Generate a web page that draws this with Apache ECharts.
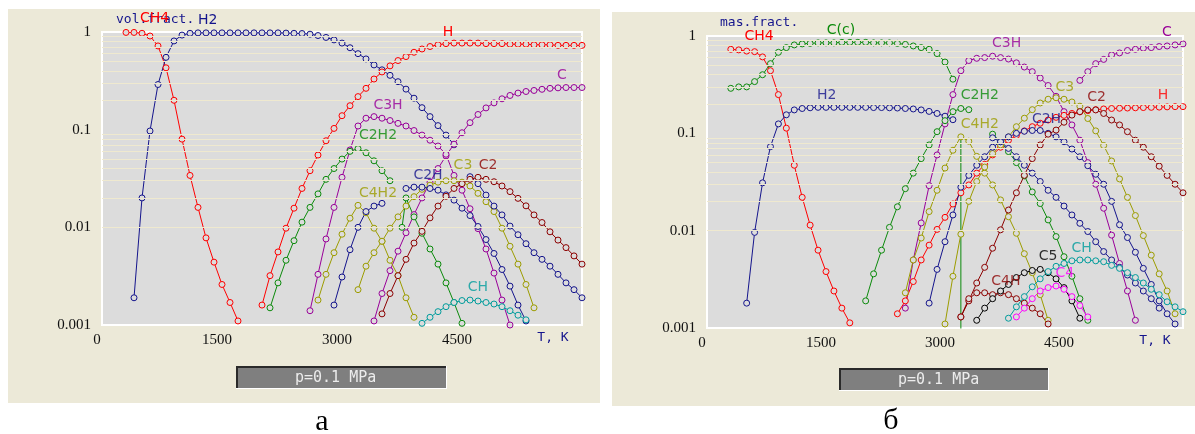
<!DOCTYPE html>
<html><head><meta charset="utf-8">
<script src="https://cdn.jsdelivr.net/npm/echarts@6/dist/echarts.min.js"></script>
<style>html,body{margin:0;padding:0;background:#fff}#c{width:1195px;height:434px}</style>
</head><body><div id="c"></div>
<script>
// ---------- tick labels / axis ----------
const xTicks = [0, 1500, 3000, 4500];
const yTicks = [0.001, 0.01, 0.1, 1];
const minorLines = [0.002,0.003,0.004,0.005,0.006,0.007,0.008,0.009,0.02,0.03,0.04,0.05,0.06,0.07,0.08,0.09,0.2,0.3,0.4,0.5,0.6,0.7,0.8,0.9];

// ---------- panel a: volume fractions [T, value] ----------
const a_CH4 = [[300,.99],[400,.99],[500,.97],[600,.91],[700,.72],[800,.43],[900,.20],[1000,.080],[1100,.034],[1200,.016],[1300,.0078],[1400,.0044],[1500,.0026],[1600,.0017],[1700,.0011]];
const a_H2 = [[400,.0019],[500,.020],[600,.097],[700,.29],[800,.55],[900,.81],[1000,.93],[1100,.97],[1200,.98],[1300,.98],[1400,.98],[1500,.98],[1600,.98],[1700,.98],[1800,.98],[1900,.98],[2000,.98],[2100,.98],[2200,.98],[2300,.975],[2400,.97],[2500,.965],[2600,.95],[2700,.92],[2800,.88],[2900,.83],[3000,.77],[3100,.69],[3200,.60],[3300,.53],[3400,.46],[3500,.41],[3600,.36],[3700,.31],[3800,.26],[3900,.21],[4000,.168],[4100,.136],[4200,.11],[4300,.088],[4400,.070]];
const a_H = [[2000,.0016],[2100,.0032],[2200,.0056],[2300,.0098],[2400,.0157],[2500,.025],[2600,.038],[2700,.055],[2800,.077],[2900,.103],[3000,.139],[3100,.176],[3200,.218],[3300,.265],[3400,.33],[3500,.39],[3600,.45],[3700,.51],[3800,.56],[3900,.62],[4000,.67],[4100,.71],[4200,.74],[4300,.76],[4400,.77],[4500,.77],[4600,.77],[4700,.77],[4800,.76],[4900,.76],[5000,.76],[5100,.75],[5200,.75],[5300,.75],[5400,.74],[5500,.74],[5600,.74],[5700,.73],[5800,.73],[5900,.73],[6000,.73]];
const a_C = [[3400,.0011],[3500,.0021],[3600,.0036],[3700,.0057],[3800,.0088],[3900,.0135],[4000,.020],[4100,.029],[4200,.040],[4300,.054],[4400,.071],[4500,.093],[4600,.118],[4700,.143],[4800,.167],[4900,.188],[5000,.207],[5100,.224],[5200,.237],[5300,.246],[5400,.252],[5500,.259],[5600,.265],[5700,.268],[5800,.27],[5900,.27],[6000,.27]];
const a_C3H = [[2600,.0014],[2700,.0033],[2800,.0076],[2900,.016],[3000,.0325],[3100,.062],[3200,.109],[3300,.131],[3400,.136],[3500,.131],[3600,.124],[3700,.116],[3800,.109],[3900,.098],[4000,.088],[4100,.078],[4200,.068],[4300,.056],[4400,.034],[4500,.024],[4600,.0155],[4700,.0097],[4800,.006],[4900,.0034],[5000,.0018],[5100,.001]];
const a_C2H2 = [[2100,.0015],[2200,.0027],[2300,.0046],[2400,.0073],[2500,.0113],[2600,.016],[2700,.022],[2800,.031],[2900,.040],[3000,.050],[3100,.060],[3200,.064],[3300,.058],[3400,.048],[3500,.038],[3600,.030]];
const a_G2 = [[3750,.010],[3800,.020],[3900,.0128],[4000,.0087],[4100,.0060],[4200,.0042],[4300,.0027],[4400,.0017],[4500,.00104]];
const a_C4H2 = [[2700,.0018],[2800,.0033],[2900,.0055],[3000,.0085],[3100,.0124],[3200,.0168],[3300,.0141],[3400,.0098],[3500,.0072],[3600,.0046],[3700,.0032],[3800,.0019],[3900,.0012]];
const a_C3 = [[3200,.0023],[3300,.0040],[3400,.0055],[3500,.0072],[3600,.0098],[3700,.0128],[3800,.0165],[3900,.0206],[4000,.0245],[4100,.027],[4200,.029],[4300,.030],[4400,.030],[4500,.029],[4600,.0265],[4700,.0223],[4800,.0183],[4900,.0145],[5000,.0098],[5100,.0064],[5200,.0042],[5300,.0026],[5400,.0015]];
const a_C2H = [[3800,.025],[3900,.0258],[4000,.0258],[4100,.025],[4200,.024],[4300,.0215],[4400,.019],[4500,.0157],[4600,.0132],[4700,.0102],[4800,.0075],[4900,.0054],[5000,.0037],[5100,.0025],[5200,.0016],[5300,.0011]];
const a_N1 = [[2900,.0016],[3000,.0031],[3100,.0059],[3200,.0100],[3300,.0145],[3400,.0165],[3500,.0176]];
const a_N2 = [[4600,.033],[4700,.028],[4800,.0214],[4900,.0165],[5000,.0134],[5100,.0103],[5200,.0084],[5300,.0068],[5400,.0055],[5500,.0047],[5600,.0040],[5700,.0033],[5800,.0027],[5900,.0023],[6000,.0019]];
const a_C2 = [[3500,.0013],[3600,.0021],[3700,.0032],[3800,.0047],[3900,.0069],[4000,.0091],[4100,.0125],[4200,.0165],[4300,.0208],[4400,.025],[4500,.028],[4600,.031],[4700,.0325],[4800,.031],[4900,.0293],[5000,.0265],[5100,.0232],[5200,.0198],[5300,.0166],[5400,.0134],[5500,.0112],[5600,.0090],[5700,.0074],[5800,.0062],[5900,.0051],[6000,.0042]];
const a_CH = [[4000,.00104],[4100,.0012],[4200,.00137],[4300,.00154],[4400,.0017],[4500,.00178],[4600,.0018],[4700,.00176],[4800,.0017],[4900,.00164],[5000,.00154],[5100,.0014],[5200,.00126],[5300,.00113]];

// ---------- panel b: mass fractions [T, value] ----------
const b_CH4 = [[300,.73],[400,.72],[500,.70],[600,.69],[700,.61],[800,.44],[900,.25],[1000,.113],[1100,.047],[1200,.022],[1300,.0114],[1400,.0063],[1500,.0038],[1600,.0024],[1700,.0016],[1800,.00113]];
const b_Cc = [[300,.29],[400,.30],[500,.30],[600,.34],[700,.40],[800,.52],[900,.68],[1000,.76],[1100,.81],[1200,.83],[1300,.84],[1400,.85],[1500,.85],[1600,.85],[1700,.86],[1800,.86],[1900,.86],[2000,.86],[2100,.85],[2200,.85],[2300,.85],[2400,.84],[2500,.82],[2600,.79],[2700,.76],[2800,.73],[2900,.66],[3000,.54],[3100,.36]];
const b_H2 = [[500,.0018],[600,.0096],[700,.031],[800,.073],[900,.125],[1000,.155],[1100,.174],[1200,.18],[1300,.183],[1400,.185],[1500,.185],[1600,.185],[1700,.185],[1800,.185],[1900,.185],[2000,.185],[2100,.184],[2200,.184],[2300,.183],[2400,.182],[2500,.18],[2600,.178],[2700,.174],[2800,.168],[2900,.16],[3000,.15],[3100,.138]];
const b_C3H = [[2500,.0016],[2600,.0050],[2700,.012],[2800,.029],[2900,.060],[3000,.125],[3100,.25],[3200,.44],[3300,.56],[3400,.59],[3500,.60],[3600,.62],[3700,.60],[3800,.58],[3900,.53],[4000,.48],[4100,.43],[4200,.37],[4300,.31],[4400,.24],[4500,.167],[4600,.122],[4700,.085],[4800,.050],[4900,.030],[5000,.017],[5100,.009],[5200,.0046],[5300,.0024],[5400,.0012]];
const b_C = [[4700,.35],[4800,.43],[4900,.52],[5000,.575],[5100,.64],[5200,.67],[5300,.71],[5400,.73],[5500,.75],[5600,.76],[5700,.78],[5800,.79],[5900,.81],[6000,.83]];
const b_H = [[2400,.0014],[2500,.0019],[2600,.0030],[2700,.0050],[2800,.0071],[2900,.0103],[3000,.0137],[3100,.0188],[3200,.0245],[3300,.0295],[3400,.039],[3500,.048],[3600,.060],[3700,.072],[3800,.085],[3900,.095],[4000,.106],[4100,.117],[4200,.127],[4300,.137],[4400,.146],[4500,.153],[4600,.160],[4700,.166],[4800,.171],[4900,.175],[5000,.178],[5100,.18],[5200,.181],[5300,.182],[5400,.183],[5500,.184],[5600,.185],[5700,.186],[5800,.187],[5900,.188],[6000,.188]];
const b_C2H2 = [[2000,.0019],[2100,.0036],[2200,.0063],[2300,.0108],[2400,.0176],[2500,.027],[2600,.039],[2700,.055],[2800,.076],[2900,.104],[3000,.135],[3100,.167],[3200,.18],[3300,.175]];
const b_G2 = [[3600,.098],[3700,.082],[3800,.065],[3900,.050],[4000,.0365],[4100,.025],[4200,.019],[4300,.0129],[4400,.0087],[4500,.0054],[4600,.0034],[4700,.0020],[4800,.0012]];
const b_Gdrop = [[3200,.092],[3200,.0005]];
const b_C4H2 = [[2500,.0023],[2600,.0050],[2700,.0084],[2800,.0157],[2900,.026],[3000,.044],[3100,.067],[3200,.092],[3300,.083],[3400,.058],[3500,.039],[3600,.0295],[3700,.0207],[3800,.0139],[3900,.0094],[4000,.0058],[4100,.0037],[4200,.0022],[4300,.0012]];
const b_C3 = [[3000,.0011],[3100,.0034],[3200,.0092],[3300,.020],[3400,.032],[3500,.045],[3600,.062],[3700,.076],[3800,.092],[3900,.117],[4000,.143],[4100,.175],[4200,.205],[4300,.224],[4400,.232],[4500,.224],[4600,.21],[4700,.19],[4800,.142],[4900,.106],[5000,.075],[5100,.052],[5200,.034],[5300,.022],[5400,.0143],[5500,.0089],[5600,.0056],[5700,.0036],[5800,.0024],[5900,.0014]];
const b_C2H = [[2800,.0018],[2900,.0040],[3000,.0077],[3100,.0145],[3200,.028],[3300,.037],[3400,.047],[3500,.0575],[3600,.072],[3700,.082],[3800,.092],[3900,.10],[4000,.105],[4100,.107],[4200,.107],[4300,.10],[4400,.092],[4500,.082],[4600,.069],[4700,.0575],[4800,.0465],[4900,.038],[5000,.030],[5100,.020],[5200,.0115],[5300,.0085],[5400,.0060],[5500,.0041],[5600,.0028],[5700,.0019],[5800,.0014],[5900,.0011]];
const b_N2 = [[3600,.090],[3700,.082],[3800,.070],[3900,.0575],[4000,.047],[4100,.039],[4200,.032],[4300,.026],[4400,.022],[4500,.0179],[4600,.0145],[4700,.0119],[4800,.0098],[4900,.0077],[5000,.0061],[5100,.0050],[5200,.0042],[5300,.0035],[5400,.0029],[5500,.0024],[5600,.0020],[5700,.0016]];
const b_C2 = [[3200,.0013],[3300,.0019],[3400,.0029],[3500,.0042],[3600,.0066],[3700,.0102],[3800,.0163],[3900,.0245],[4000,.037],[4100,.055],[4200,.076],[4300,.098],[4400,.108],[4500,.13],[4600,.154],[4700,.167],[4800,.174],[4900,.174],[5000,.16],[5100,.137],[5200,.122],[5300,.104],[5400,.085],[5500,.072],[5600,.0575],[5700,.046],[5800,.037],[5900,.030],[6000,.0245]];
const b_C4H = [[3200,.0013],[3300,.0020],[3400,.0023],[3500,.0023],[3600,.0022],[3700,.0023],[3800,.0022],[3900,.0020],[4000,.0018],[4100,.0016],[4200,.0014],[4300,.0011]];
const b_C5 = [[3400,.0012],[3500,.0016],[3600,.0020],[3700,.0024],[3800,.0028],[3900,.0033],[4000,.0037],[4100,.0039],[4200,.0040],[4300,.0037],[4400,.0032],[4500,.0026],[4600,.0019],[4700,.00126]];
const b_C4 = [[3900,.0013],[4000,.0016],[4100,.0020],[4200,.0024],[4300,.0026],[4400,.0027],[4500,.0025],[4600,.0021],[4700,.0017],[4800,.0013]];
const b_CH = [[3800,.00126],[3900,.00165],[4000,.0021],[4100,.00265],[4200,.0032],[4300,.0038],[4400,.0043],[4500,.0046],[4600,.0049],[4700,.0050],[4800,.0050],[4900,.0049],[5000,.0048],[5100,.0044],[5200,.0041],[5300,.0037],[5400,.0033],[5500,.0029],[5600,.0025],[5700,.0022],[5800,.00186],[5900,.00165],[6000,.00147]];

// ---------- in-plot series labels [name, T, value] ----------
const a_labels = [['C',5750,.363],['C3H',3575,.179],['C2H2',3450,.088],['C2H',4075,.0343],['C3',4512,.0435],['C2',4825,.0435],['C4H2',3450,.0225],['CH',4700,.00245]];
const b_labels = [['H2',1508,.244],['C3H',3776,.84],['C2H2',3440,.248],['C3',4511,.297],['C2',4910,.234],['H',5749,.248],['C4H2',3440,.125],['C2H',4280,.14],['CH',4721,.0066],['C5',4300,.0054],['C4',4511,.0036],['C4H',3767,.003]];

// ---------- styling ----------
const COL = {red:'#ff0000', navy:'#14148c', purple:'#990099', green:'#0b8a0b', olive:'#9c9c00', dred:'#8c0000', teal:'#009c9c', mag:'#ff00ff', black:'#000000'};
const LBLCOL = {H:'red',H2:'navy',CH4:'red',C:'purple',C3H:'purple',C2H2:'green',C2H:'navy',C3:'olive',C2:'dred',C4H2:'olive',CH:'teal',C5:'black',C4:'mag',C4H:'dred'};
const PLOTBG = '#dcdcdc', GRIDC = '#efe9cf', PANEL = '#ece9d8';

function ln(g, data, col, extra) {
  return Object.assign({
    type:'line', xAxisIndex:g, yAxisIndex:g, data:data, clip:true, silent:true,
    symbol:'circle', symbolSize:6, showAllSymbol:true,
    lineStyle:{color:COL[col], width:1},
    itemStyle:{color:PLOTBG, borderColor:COL[col], borderWidth:1},
    z:3, animation:false
  }, extra || {});
}
function labels(g, list) {
  return {type:'scatter', xAxisIndex:g, yAxisIndex:g, symbol:'circle', symbolSize:1, itemStyle:{color:'rgba(0,0,0,0)'}, silent:true, clip:false, z:10, animation:false,
    data:list.map(l => ({name:l[0], value:[l[1], l[2]], label:{show:true, color:COL[LBLCOL[l[0]]]}})),
    label:{show:true, position:'inside', formatter:'{b}', fontFamily:'DejaVu Sans', fontSize:14},
    labelLayout:{hideOverlap:false}};
}
function minor(g) {
  return {type:'line', xAxisIndex:g, yAxisIndex:g, data:[], z:1, silent:true, animation:false,
    markLine:{silent:true, symbol:'none', animation:false, label:{show:false},
      lineStyle:{color:GRIDC, type:'solid', width:1},
      data:minorLines.map(v => ({yAxis:v}))}};
}
const yFmt = v => v >= 1 ? '1' : String(+v.toPrecision(1));
function xAx(g) {
  return {type:'value', gridIndex:g, min:0, max:6000, interval:1500,
    axisLine:{show:false}, axisTick:{show:false},
    splitLine:{show:true, lineStyle:{color:GRIDC, width:1}},
    axisLabel:{formatter: v => xTicks.indexOf(v) >= 0 ? String(v) : '', fontFamily:'Liberation Serif', fontSize:15, color:'#111', margin:8, padding:[0,10,0,0]}};
}
function yAx(g) {
  return {type:'log', logBase:10, gridIndex:g, min:0.001, max:1,
    axisLine:{show:false}, axisTick:{show:false},
    splitLine:{show:true, lineStyle:{color:GRIDC, width:1}},
    axisLabel:{formatter: v => yTicks.some(t => Math.abs(t - v) / t < 1e-6) ? yFmt(v) : '', fontFamily:'Liberation Serif', fontSize:15, color:'#111', margin:11, padding:[0,0,7,0]}};
}
function txt(x, y, s, col, font, align) {
  return {type:'text', x:x, y:y, z:20, silent:true,
    style:{text:s, fill:col, font:font, textAlign:align || 'left', textVerticalAlign:'middle'}};
}
function bar(x, y, w, h, tx) {
  return [
    {type:'rect', shape:{x:x, y:y, width:w, height:h}, style:{fill:'#7f7f7f'}, z:5, silent:true},
    {type:'line', shape:{x1:x, y1:y+1, x2:x+w, y2:y+1}, style:{stroke:'#2a2a2a', lineWidth:2}, z:6, silent:true},
    {type:'line', shape:{x1:x+1, y1:y, x2:x+1, y2:y+h}, style:{stroke:'#2a2a2a', lineWidth:2}, z:6, silent:true},
    {type:'line', shape:{x1:x, y1:y+h-0.5, x2:x+w, y2:y+h-0.5}, style:{stroke:'#ffffff', lineWidth:1}, z:6, silent:true},
    {type:'line', shape:{x1:x+w-0.5, y1:y, x2:x+w-0.5, y2:y+h}, style:{stroke:'#ffffff', lineWidth:1}, z:6, silent:true},
    txt(tx, y + h/2 + 1, 'p=0.1 MPa', '#ececec', '15px "DejaVu Sans Mono"')
  ];
}

const chart = echarts.init(document.getElementById('c'), null, {renderer:'canvas'});
const mono = '13px "DejaVu Sans Mono"', sans = '14px "DejaVu Sans"';
chart.setOption({
  animation:false,
  grid:[
    {left:102, top:32, width:480, height:293, show:true, backgroundColor:PLOTBG, borderColor:'#ffffff', borderWidth:2, z:1},
    {left:707, top:36, width:476, height:292, show:true, backgroundColor:PLOTBG, borderColor:'#ffffff', borderWidth:2, z:1}
  ],
  xAxis:[xAx(0), xAx(1)],
  yAxis:[yAx(0), yAx(1)],
  graphic:[
    {type:'rect', shape:{x:8, y:9, width:592, height:394}, style:{fill:PANEL}, z:-10, silent:true},
    {type:'rect', shape:{x:612, y:12, width:583, height:394}, style:{fill:PANEL}, z:-10, silent:true},
    txt(116, 20, 'vol.fract.', COL.navy, mono),
    txt(140, 18, 'CH4', COL.red, sans),
    txt(198, 20, 'H2', COL.navy, sans),
    txt(448, 32, 'H', COL.red, sans, 'center'),
    txt(553, 338, 'T, K', COL.navy, mono, 'center'),
    txt(720, 23, 'mas.fract.', COL.navy, mono),
    txt(759, 36, 'CH4', COL.red, sans, 'center'),
    txt(841, 30, 'C(c)', COL.green, sans, 'center'),
    txt(1167, 32, 'C', COL.purple, sans, 'center'),
    txt(1155, 341, 'T, K', COL.navy, mono, 'center'),
    ...bar(236, 366, 211, 23, 295),
    ...bar(839, 368, 210, 23, 898),
    txt(322, 422, 'а', '#000', '30px "Liberation Serif"', 'center'),
    txt(891, 421, 'б', '#000', '30px "Liberation Serif"', 'center')
  ],
  series:[
    minor(0), minor(1),
    ln(0, a_CH4, 'red'), ln(0, a_H2, 'navy'), ln(0, a_H, 'red'), ln(0, a_C, 'purple'), ln(0, a_C3H, 'purple'),
    ln(0, a_C2H2, 'green'), ln(0, a_G2, 'green'), ln(0, a_C4H2, 'olive'), ln(0, a_C3, 'olive'),
    ln(0, a_C2H, 'navy'), ln(0, a_N1, 'navy'), ln(0, a_N2, 'navy'), ln(0, a_C2, 'dred'), ln(0, a_CH, 'teal'),
    ln(1, b_CH4, 'red'), ln(1, b_Cc, 'green'), ln(1, b_H2, 'navy'), ln(1, b_C3H, 'purple'), ln(1, b_C, 'purple'),
    ln(1, b_H, 'red'), ln(1, b_C2H2, 'green'), ln(1, b_G2, 'green'), ln(1, b_Gdrop, 'green', {symbol:'none'}),
    ln(1, b_C4H2, 'olive'), ln(1, b_C3, 'olive'), ln(1, b_C2H, 'navy'), ln(1, b_N2, 'navy'), ln(1, b_C2, 'dred'),
    ln(1, b_C4H, 'dred'), ln(1, b_C5, 'black'), ln(1, b_C4, 'mag'), ln(1, b_CH, 'teal'),
    labels(0, a_labels), labels(1, b_labels)
  ]
});
</script></body></html>
